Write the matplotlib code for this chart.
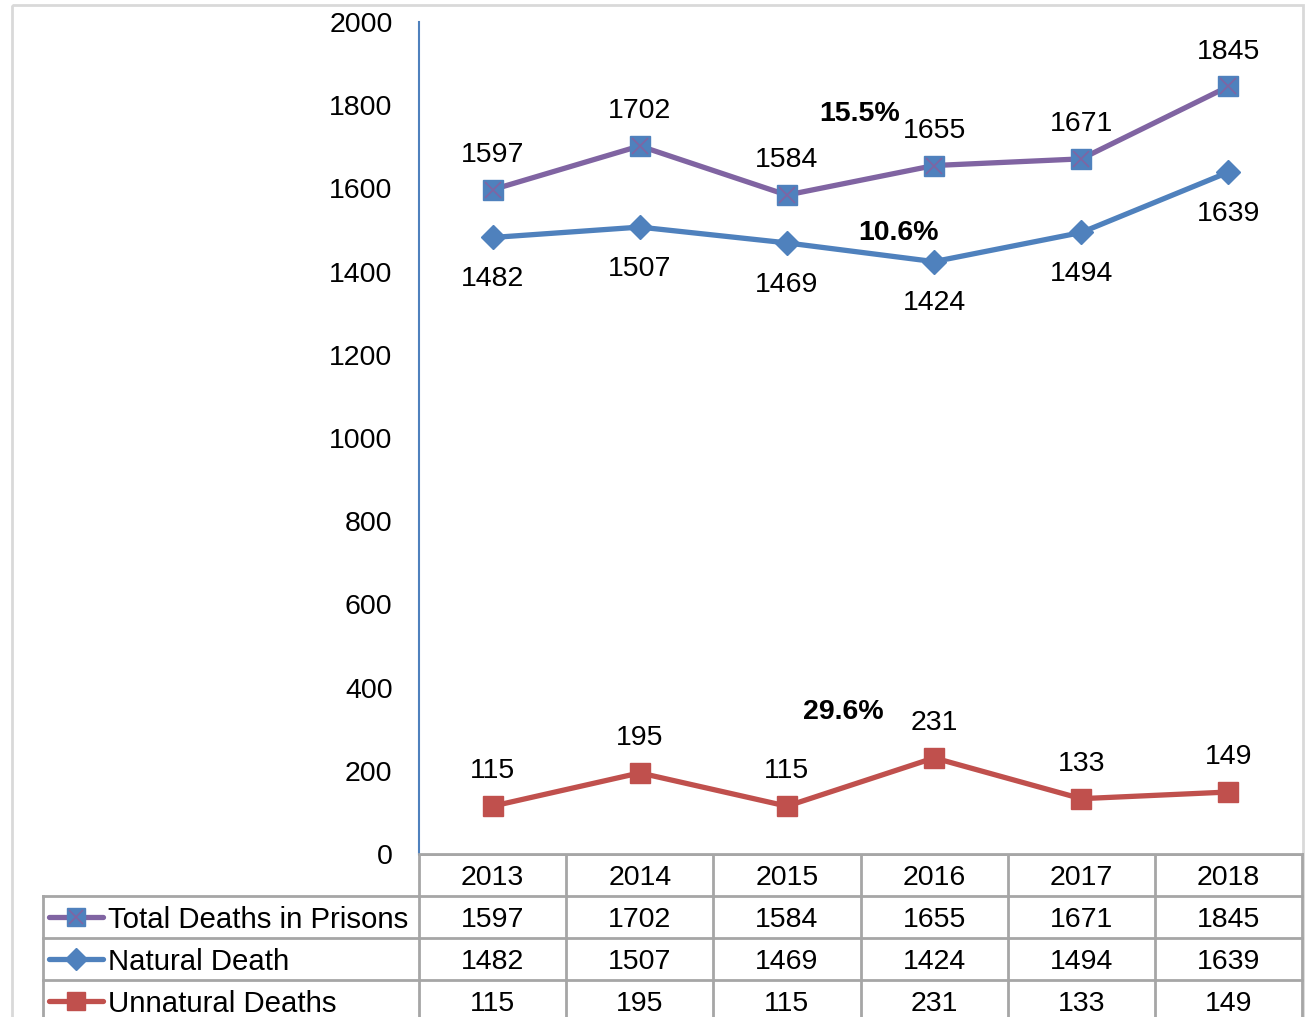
import matplotlib.pyplot as plt
import numpy as np
from matplotlib.patches import Rectangle
from matplotlib.lines import Line2D

years = ['2013', '2014', '2015', '2016', '2017', '2018']
total_deaths = [1597, 1702, 1584, 1655, 1671, 1845]
natural_deaths = [1482, 1507, 1469, 1424, 1494, 1639]
unnatural_deaths = [115, 195, 115, 231, 133, 149]
series_names = ['Total Deaths in Prisons', 'Natural Death', 'Unnatural Deaths']
pct_notes = ['15.5%', '10.6%', '29.6%']

PURPLE = '#8064A2'
BLUE = '#4F81BD'
RED = '#C0504D'
GRID = '#A6A6A6'

plt.rcParams['font.family'] = ['Liberation Sans', 'DejaVu Sans']
FS = 20.5

W, H = 1306, 1017
fig = plt.figure(figsize=(W / 100, H / 100), dpi=100)

# plot area in pixels
x0, x1 = 419, 1302
y_top, y_bot = 22, 854
ax = fig.add_axes([x0 / W, (H - y_bot) / H, (x1 - x0) / W, (y_bot - y_top) / H])

x = np.arange(len(years))
ax.plot(x, total_deaths, color=PURPLE, lw=3.8, marker='s', ms=14.5,
        mfc=BLUE, mec=BLUE, zorder=3)
ax.plot(x, total_deaths, ls='none', marker='x', ms=11, mec=PURPLE, mew=1.2, zorder=4)
ax.plot(x, natural_deaths, color=BLUE, lw=3.8, marker='D', ms=12,
        mfc=BLUE, mec=BLUE, zorder=3)
ax.plot(x, unnatural_deaths, color=RED, lw=3.8, marker='s', ms=14.5,
        mfc=RED, mec=RED, zorder=3)

ax.set_xlim(-0.5, len(years) - 0.5)
ax.set_ylim(0, 2000)
ax.set_yticks(range(0, 2001, 200))
ax.set_xticks([])
ax.tick_params(axis='y', length=0, pad=19, labelsize=FS)
for s in ['top', 'right']:
    ax.spines[s].set_visible(False)
ax.spines['left'].set_color(BLUE)
ax.spines['left'].set_linewidth(1.5)
ax.spines['bottom'].set_color(GRID)
ax.spines['bottom'].set_linewidth(2)

# data labels
for i in x:
    ax.annotate(str(total_deaths[i]), (i, total_deaths[i]), xytext=(0, 25),
                textcoords='offset points', ha='center', va='center', fontsize=FS)
    ax.annotate(str(natural_deaths[i]), (i, natural_deaths[i]), xytext=(0, -30),
                textcoords='offset points', ha='center', va='center', fontsize=FS)
    ax.annotate(str(unnatural_deaths[i]), (i, unnatural_deaths[i]), xytext=(0, 25),
                textcoords='offset points', ha='center', va='center', fontsize=FS)

# percentage notes
ax.text(2.497, 1779, pct_notes[0], ha='center', va='center', fontsize=FS, fontweight='bold')
ax.text(2.755, 1493, pct_notes[1], ha='center', va='center', fontsize=FS, fontweight='bold')
ax.text(2.381, 341, pct_notes[2], ha='center', va='center', fontsize=FS, fontweight='bold')

# overlay in pixel coordinates for frame and data table
ov = fig.add_axes([0, 0, 1, 1], zorder=-1)
ov.set_xlim(0, W)
ov.set_ylim(H, 0)
ov.axis('off')
ov.add_patch(Rectangle((12, 5), 1291, H + 20, fill=False, ec='#D9D9D9', lw=2))

cell_w = (x1 - x0) / len(years)
row_y = [878, 920, 962, 1004]
row_edges = [y_bot, 896, 938, 980]
lab_left = 43

# horizontal lines
for k, yy in enumerate(row_edges):
    xs = x0 if k == 0 else lab_left
    ov.plot([xs, x1], [yy, yy], color=GRID, lw=2)
# vertical lines
ov.plot([lab_left, lab_left], [896, H + 5], color=GRID, lw=2)
for k in range(len(years) + 1):
    xx = x0 + k * cell_w
    ov.plot([xx, xx], [y_bot, H + 5], color=GRID, lw=2)

for i, yr in enumerate(years):
    cx = x0 + (i + 0.5) * cell_w
    ov.text(cx, row_y[0], yr, ha='center', va='center', fontsize=FS)
    ov.text(cx, row_y[1], str(total_deaths[i]), ha='center', va='center', fontsize=FS)
    ov.text(cx, row_y[2], str(natural_deaths[i]), ha='center', va='center', fontsize=FS)
    ov.text(cx, row_y[3], str(unnatural_deaths[i]), ha='center', va='center', fontsize=FS)

# legend keys in table rows
key_styles = [
    dict(color=PURPLE, marker='s', mfc=BLUE, mec=BLUE, ms=13),
    dict(color=BLUE, marker='D', mfc=BLUE, mec=BLUE, ms=11),
    dict(color=RED, marker='s', mfc=RED, mec=RED, ms=13),
]
for r, (name, st) in enumerate(zip(series_names, key_styles)):
    yy = row_edges[r + 1] + 21
    ov.add_line(Line2D([49, 103], [yy, yy], lw=3.8, solid_capstyle='round', color=st['color']))
    ov.plot([76], [yy], ls='none', marker=st['marker'], mfc=st['mfc'], mec=st['mec'], ms=st['ms'])
    if r == 0:
        ov.plot([76], [yy], ls='none', marker='x', ms=10, mec=PURPLE, mew=1.2)
    ov.text(108, row_y[r + 1], name, ha='left', va='center', fontsize=21.2)

fig.savefig('out.png', dpi=100)
